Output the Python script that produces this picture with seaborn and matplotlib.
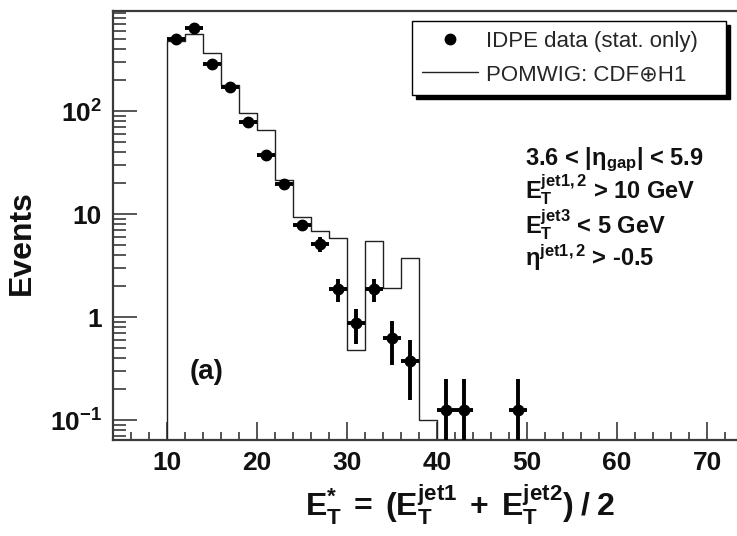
import numpy as np
import matplotlib
matplotlib.use("Agg")
import matplotlib.pyplot as plt
import seaborn as sns
from matplotlib.lines import Line2D
from matplotlib.ticker import FixedLocator, MultipleLocator, LogLocator, NullFormatter

# IDPE data: bin centres, events and statistical errors
data_et = [11, 13, 15, 17, 19, 21, 23, 25, 27, 29, 31, 33, 35, 37, 41, 43, 49]
data_events = [497, 635, 288, 172, 79, 37.4, 19.7, 7.75, 5.125, 1.875, 0.875,
               1.875, 0.625, 0.375, 0.125, 0.125, 0.125]
data_err = [7.9, 8.9, 6.0, 4.6, 3.1, 2.2, 1.6, 0.98, 0.8, 0.48, 0.33,
            0.48, 0.28, 0.22, 0.125, 0.125, 0.125]
bin_halfwidth = 1.0

# POMWIG (CDF + H1) prediction in 2 GeV bins
mc_edges = [10, 12, 14, 16, 18, 20, 22, 24, 26, 28, 30, 32, 34, 36, 38, 40]
mc_events = [478, 555, 363, 179, 96, 65.4, 21.4, 9.3, 6.8, 5.8, 0.48,
             5.5, 1.93, 3.7, 0.1]

y_ticks = [0.1, 1, 10, 100]
y_ticklabels = [r"$\mathbf{10^{-1}}$", "1", "10", r"$\mathbf{10^{2}}$"]
x_ticks = [10, 20, 30, 40, 50, 60, 70]

sns.set_theme(style="ticks")
plt.rcParams["font.family"] = ["Liberation Sans", "DejaVu Sans"]
plt.rcParams["mathtext.fontset"] = "custom"
plt.rcParams["mathtext.rm"] = "Liberation Sans"
plt.rcParams["mathtext.bf"] = "Liberation Sans:bold"
plt.rcParams["mathtext.it"] = "Liberation Sans:italic"
plt.rcParams["mathtext.default"] = "bf"

W, H = 737, 536
fig = plt.figure(figsize=(W / 100, H / 100), dpi=100)
ax = fig.add_axes([113 / W, 96 / H, 630 / W, 429 / H])
ax.set_yscale("log")

ink = "#3a3a3a"

# prediction histogram
mc_centres = np.array(mc_edges[:-1]) + 1.0
sns.histplot(x=mc_centres, weights=mc_events, bins=mc_edges, element="step",
             fill=False, color="#222222", linewidth=1.0, ax=ax)
ax.vlines([mc_edges[0], mc_edges[-1]], 1e-3, [mc_events[0], mc_events[-1]],
          color="#222222", linewidth=1.0)

# data points with errors (lower bars run to the axis when they reach zero)
vals = np.array(data_events)
errs = np.array(data_err)
lower = np.minimum(errs, vals - 1e-4)
ax.errorbar(data_et, data_events, yerr=[lower, errs], xerr=bin_halfwidth,
            fmt="o", color="black", ms=7.5, elinewidth=2.8, capsize=0, zorder=5)

ax.set_xlim(4, 74)
ax.set_ylim(0.064, 935)

# axes frame and ticks
for side, sp in ax.spines.items():
    sp.set_color(ink)
    sp.set_linewidth(1.6)
ax.xaxis.set_major_locator(FixedLocator(x_ticks))
ax.xaxis.set_minor_locator(MultipleLocator(2))
ax.yaxis.set_major_locator(FixedLocator(y_ticks))
ax.yaxis.set_minor_locator(LogLocator(base=10, subs=range(2, 10)))
ax.yaxis.set_minor_formatter(NullFormatter())
ax.set_yticklabels(y_ticklabels)
ax.set_xticklabels([str(t) for t in x_ticks])
ax.tick_params(axis="both", which="both", direction="in", color=ink,
               width=1.2, labelsize=19, pad=8, labelcolor="#111111")
ax.tick_params(axis="x", which="major", length=13)
ax.tick_params(axis="x", which="minor", length=6)
ax.tick_params(axis="y", which="major", length=17)
ax.tick_params(axis="y", which="minor", length=9)
for lab in ax.get_xticklabels() + ax.get_yticklabels():
    lab.set_fontweight("bold")

ax.set_ylabel("")
ax.set_xlabel(r"$E_T^{*}\;=\;(E_T^{jet1}\;+\;E_T^{jet2})\;/\;2$", fontsize=23,
              color="#111111")
ax.xaxis.set_label_coords((460 - 113) / 630, (440 - 483) / 429)
fig.text(22 / W, 1 - 243 / H, "Events", rotation=90, ha="center", va="center",
         fontsize=23, fontweight="bold", color="#111111")

# legend
handles = [Line2D([], [], marker="o", ls="none", color="black", ms=7.5),
           Line2D([], [], color="#222222", lw=1.0)]
labels = ["IDPE data (stat. only)", "POMWIG: CDF\u2295H1"]
leg = ax.legend(handles, labels, loc="upper left",
                bbox_to_anchor=(412 / W, 1 - 96 / H, 314 / W, 75 / H),
                bbox_transform=fig.transFigure, mode="expand",
                fontsize=16, frameon=True, fancybox=False,
                shadow={"ox": 3, "oy": -3, "color": "black", "alpha": 1},
                borderpad=0.45, labelspacing=0.55, handlelength=2.5,
                handletextpad=0.4, borderaxespad=0)
leg.get_frame().set_edgecolor("black")
leg.get_frame().set_linewidth(1.0)
leg.get_frame().set_alpha(1)

# selection cuts
cuts = [r"3.6 < |$\eta_{gap}$| < 5.9",
        r"$E_T^{jet1,2}$ > 10 GeV",
        r"$E_T^{jet3}$ < 5 GeV",
        r"$\eta^{jet1,2}$ > -0.5"]
baselines = [165, 199, 233, 266]
for txt, yb in zip(cuts, baselines):
    fig.text(525 / W, 1 - yb / H, txt, ha="left", va="baseline", fontsize=17,
             fontweight="bold", color="#111111")

fig.text(207 / W, 1 - 372 / H, "(a)", ha="center", va="center", fontsize=20,
         fontweight="bold", color="#111111")

fig.savefig("out.png", dpi=100)
